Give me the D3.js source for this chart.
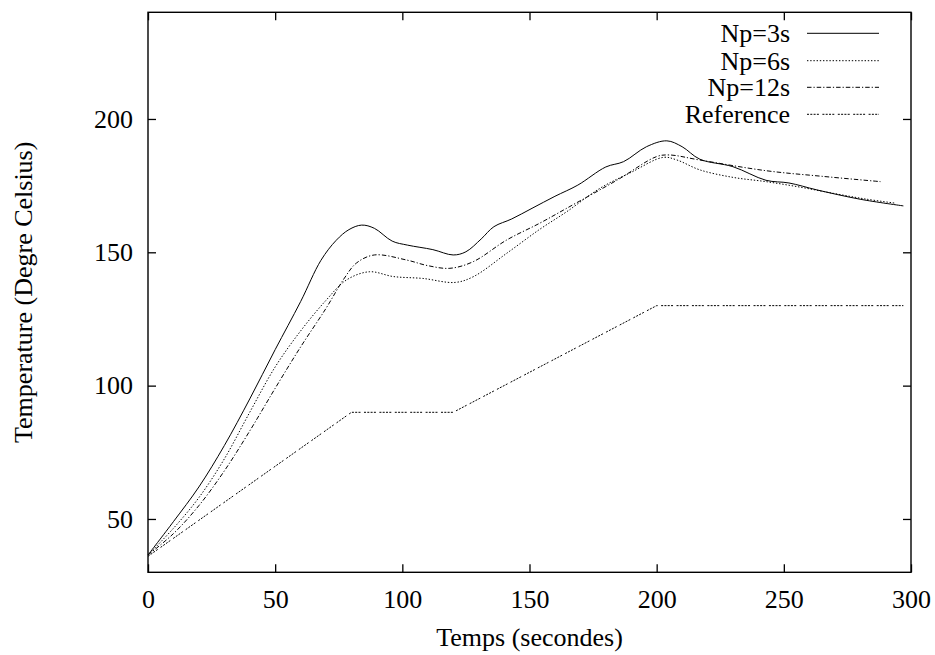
<!DOCTYPE html>
<html>
<head>
<meta charset="utf-8">
<script src="https://cdn.jsdelivr.net/npm/d3@7"></script>
<style>
  body { margin: 0; background: #fff; }
  svg { display: block; }
  text { font-family: "Liberation Serif", "Times New Roman", serif; fill: #000; }
</style>
</head>
<body>
<svg id="chart" width="935" height="655"></svg>
<script>
// ---- data ----
const np3X = [0, 10, 20, 30, 40, 50, 60, 68, 74, 79, 84, 89, 96, 102, 112, 120, 125, 131, 136, 143, 151, 160, 169, 180, 187, 196, 204, 210, 217, 230, 243, 252, 263, 280, 297];
const np3Y = [36.5, 49, 62, 77.5, 95, 113.5, 131.5, 147, 154.5, 158.5, 160.2, 159, 154.2, 152.7, 151, 149, 150.2, 155, 159.6, 162.5, 166.5, 171, 175.2, 182, 184, 189.6, 191.8, 189.6, 184.9, 182.1, 177, 176, 173.4, 169.9, 167.4];

const np6X = [0, 10, 20, 30, 40, 50, 60, 70, 78, 87, 96.5, 108, 120.7, 128, 141, 154, 164.6, 177.7, 190, 202.6, 208, 217, 230, 243, 256, 269.5, 282, 294];
const np6Y = [36.5, 46.5, 58, 72.5, 90, 107, 120.5, 132, 139.6, 142.7, 140.9, 140.2, 138.7, 140.9, 149.6, 158.6, 165.2, 174, 180, 185.6, 184.6, 180.9, 178.1, 176.5, 174.5, 172.1, 170, 168.4];

const np12X = [0, 10, 20, 30, 40, 50, 60, 70, 77, 82, 89, 101.7, 110, 118.7, 127.9, 141, 154, 164.6, 184.5, 200, 205, 217, 243, 265, 288];
const np12Y = [36.5, 44.5, 55, 68, 83, 99, 114.5, 129, 140, 146, 149, 147.1, 145, 144, 146.5, 154.6, 160.9, 166.5, 177.1, 185.9, 186.5, 184.6, 180.6, 178.5, 176.5];

const refX = [0, 80, 120, 200, 297];
const refY = [36, 90, 90, 130, 130];

const seriesNames = ["Np=3s", "Np=6s", "Np=12s", "Reference"];
const xTicks = [0, 50, 100, 150, 200, 250, 300];
const yTicks = [50, 100, 150, 200];
const xTitle = "Temps (secondes)";
const yTitle = "Temperature (Degre Celsius)";

// ---- layout ----
const svg = d3.select("#chart");
const pLeft = 148, pRight = 911, pTop = 12.3, pBottom = 572.3;
const x = d3.scaleLinear().domain([0, 300]).range([pLeft, pRight]);
const y = d3.scaleLinear().domain([30, 240]).range([pBottom, pTop]);
const FS = 26;

const styles = [
  { dash: null },
  { dash: "1.4,1.8" },
  { dash: "4.5,2,1.2,2" },
  { dash: "2,1.3,2,1.3,2,1.3,2,3.5" }
];

const series = [
  np3X.map((v, i) => [v, np3Y[i]]),
  np6X.map((v, i) => [v, np6Y[i]]),
  np12X.map((v, i) => [v, np12Y[i]]),
  refX.map((v, i) => [v, refY[i]])
];

// axes (inward ticks on all four sides)
function styleAxis(g) {
  g.select(".domain").remove();
  g.selectAll(".tick line").attr("stroke", "#000").attr("stroke-width", 1.3);
  g.selectAll(".tick text").style("font-family", '"Liberation Serif", serif').style("font-size", FS + "px").attr("fill", "#000");
}
svg.append("g").attr("transform", `translate(0,${pBottom})`)
  .call(d3.axisBottom(x).tickValues(xTicks).tickSize(-8).tickPadding(17).tickFormat(d3.format("d")))
  .call(styleAxis);
svg.append("g").attr("transform", `translate(0,${pTop})`)
  .call(d3.axisTop(x).tickValues(xTicks).tickSize(-8).tickFormat(""))
  .call(styleAxis);
svg.append("g").attr("transform", `translate(${pLeft},0)`)
  .call(d3.axisLeft(y).tickValues(yTicks).tickSize(-8).tickPadding(15).tickFormat(d3.format("d")))
  .call(styleAxis);
svg.append("g").attr("transform", `translate(${pRight},0)`)
  .call(d3.axisRight(y).tickValues(yTicks).tickSize(-8).tickFormat(""))
  .call(styleAxis);

// frame
svg.append("rect").attr("x", pLeft).attr("y", pTop)
  .attr("width", pRight - pLeft).attr("height", pBottom - pTop)
  .attr("fill", "none").attr("stroke", "#000").attr("stroke-width", 1.4);

// lines
const line = d3.line().x(d => x(d[0])).y(d => y(d[1]));
series.forEach((s, i) => {
  svg.append("path").datum(s)
    .attr("d", line.curve(i === 3 ? d3.curveLinear : d3.curveCatmullRom.alpha(0.5)))
    .attr("fill", "none").attr("stroke", "#000").attr("stroke-width", 1)
    .attr("stroke-dasharray", styles[i].dash);
});

// legend
const legRows = [33.3, 60.7, 87.3, 114.3];
seriesNames.forEach((name, i) => {
  svg.append("text").attr("x", 790).attr("y", legRows[i] + 9)
    .attr("text-anchor", "end").style("font-size", FS + "px").text(name);
  svg.append("line").attr("x1", 807).attr("x2", 879)
    .attr("y1", legRows[i]).attr("y2", legRows[i])
    .attr("stroke", "#000").attr("stroke-width", 1)
    .attr("stroke-dasharray", styles[i].dash);
});

// titles
svg.append("text").attr("x", (pLeft + pRight) / 2).attr("y", 646)
  .attr("text-anchor", "middle").style("font-size", FS + "px").text(xTitle);
svg.append("text").attr("transform", `translate(32,${(pTop + pBottom) / 2}) rotate(-90)`)
  .attr("text-anchor", "middle").style("font-size", FS + "px").text(yTitle);
</script>
</body>
</html>
